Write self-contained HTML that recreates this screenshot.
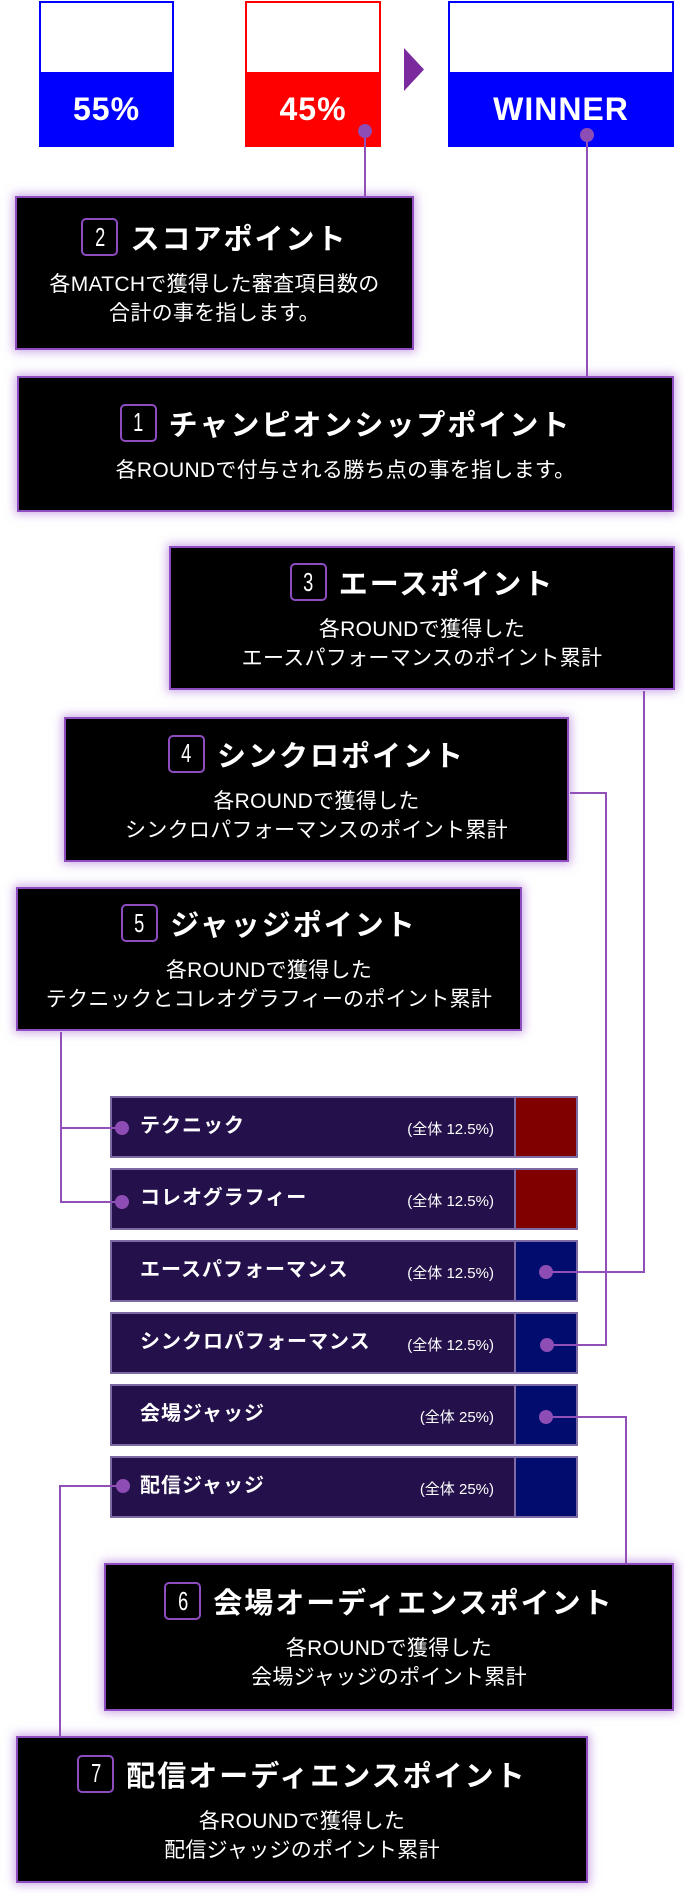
<!DOCTYPE html>
<html><head><meta charset="utf-8"><style>
*{margin:0;padding:0;box-sizing:border-box}
body{width:685px;height:1896px;background:#fff;position:relative;overflow:hidden;font-family:"Liberation Sans","Noto Sans CJK JP",sans-serif}
.top{position:absolute;top:1px;height:146px;border:2px solid;}
.top .fill{position:absolute;left:-2px;right:-2px;bottom:-2px;height:75px;color:#fff;font-weight:bold;font-size:32px;display:flex;align-items:center;justify-content:center;letter-spacing:1px}
.box{position:absolute;background:#000;border:2px solid #8d4cc0;box-shadow:0 0 9px 2px rgba(160,100,210,.55);display:flex;flex-direction:column;justify-content:center;align-items:center;color:#fff}
.t{display:flex;align-items:center;height:38px;font-size:29px;font-weight:bold;letter-spacing:2px;margin-bottom:14px}
.b{width:37px;height:38px;border:2px solid #8d4cc0;border-radius:5px;display:flex;align-items:center;justify-content:center;font-size:26px;font-weight:normal;letter-spacing:0;margin-right:12px}
.b i{font-style:normal;display:inline-block;transform:scaleX(.7)}
.d{font-size:21px;line-height:29px;text-align:center;letter-spacing:.3px}
.bar{position:absolute;left:110px;width:468px;height:62px;background:#24104a;border:2px solid #7c6aa4}
.bar .sw{position:absolute;right:0;top:0;bottom:0;width:62px;border-left:2px solid #7c6aa4}
.bar .l{position:absolute;left:28px;top:0;line-height:56px;color:#fff;font-weight:bold;font-size:20px;letter-spacing:1px}
.bar .p{position:absolute;right:82px;top:3px;line-height:58px;color:#fff;font-size:15px}
</style></head><body>
<div class="top" style="left:39px;width:135px;border-color:#0000ff"><div class="fill" style="background:#0000ff">55%</div></div>
<div class="top" style="left:245px;width:136px;border-color:#ff0000"><div class="fill" style="background:#ff0000">45%</div></div>
<svg style="position:absolute;left:404px;top:48px" width="20" height="43"><polygon points="0,0 20,21.5 0,43" fill="#7a2a9c"/></svg>
<div class="top" style="left:448px;width:226px;border-color:#0000ff"><div class="fill" style="background:#0000ff">WINNER</div></div>

<div class="box" style="left:15px;top:196px;width:399px;height:154px"><div class="t"><span class="b"><i>2</i></span>スコアポイント</div><div class="d">各MATCHで獲得した審査項目数の<br>合計の事を指します。</div></div>
<div class="box" style="left:17px;top:376px;width:657px;height:136px"><div class="t"><span class="b"><i>1</i></span>チャンピオンシップポイント</div><div class="d">各ROUNDで付与される勝ち点の事を指します。</div></div>
<div class="box" style="left:169px;top:546px;width:506px;height:144px"><div class="t"><span class="b"><i>3</i></span>エースポイント</div><div class="d">各ROUNDで獲得した<br>エースパフォーマンスのポイント累計</div></div>
<div class="box" style="left:64px;top:717px;width:505px;height:145px"><div class="t"><span class="b"><i>4</i></span>シンクロポイント</div><div class="d">各ROUNDで獲得した<br>シンクロパフォーマンスのポイント累計</div></div>
<div class="box" style="left:16px;top:887px;width:506px;height:144px"><div class="t"><span class="b"><i>5</i></span>ジャッジポイント</div><div class="d">各ROUNDで獲得した<br>テクニックとコレオグラフィーのポイント累計</div></div>

<div class="bar" style="top:1096px"><span class="l">テクニック</span><span class="p">(全体 12.5%)</span><div class="sw" style="background:#800000"></div></div>
<div class="bar" style="top:1168px"><span class="l">コレオグラフィー</span><span class="p">(全体 12.5%)</span><div class="sw" style="background:#800000"></div></div>
<div class="bar" style="top:1240px"><span class="l">エースパフォーマンス</span><span class="p">(全体 12.5%)</span><div class="sw" style="background:#000c6e"></div></div>
<div class="bar" style="top:1312px"><span class="l">シンクロパフォーマンス</span><span class="p">(全体 12.5%)</span><div class="sw" style="background:#000c6e"></div></div>
<div class="bar" style="top:1384px"><span class="l">会場ジャッジ</span><span class="p">(全体 25%)</span><div class="sw" style="background:#000c6e"></div></div>
<div class="bar" style="top:1456px"><span class="l">配信ジャッジ</span><span class="p">(全体 25%)</span><div class="sw" style="background:#000c6e"></div></div>

<div class="box" style="left:104px;top:1563px;width:570px;height:148px"><div class="t"><span class="b"><i>6</i></span>会場オーディエンスポイント</div><div class="d">各ROUNDで獲得した<br>会場ジャッジのポイント累計</div></div>
<div class="box" style="left:16px;top:1736px;width:572px;height:147px"><div class="t"><span class="b"><i>7</i></span>配信オーディエンスポイント</div><div class="d">各ROUNDで獲得した<br>配信ジャッジのポイント累計</div></div>

<svg style="position:absolute;left:0;top:0" width="685" height="1896">
<g fill="none" stroke="#9050b8" stroke-width="2">
<path d="M365 131V196"/>
<path d="M587 135V376"/>
<path d="M644 691V1272H546"/>
<path d="M570 793H606V1345H546"/>
<path d="M61 1032V1202H122M61 1128H122"/>
<path d="M546 1417H626V1563"/>
<path d="M122 1486H60V1736"/>
</g>
<g fill="#8e4db5">
<circle cx="365" cy="131" r="7"/><circle cx="587" cy="135" r="7"/>
<circle cx="122" cy="1128" r="7"/><circle cx="122" cy="1202" r="7"/>
<circle cx="546" cy="1272" r="7"/><circle cx="547" cy="1345" r="7"/>
<circle cx="546" cy="1417" r="7"/><circle cx="123" cy="1486" r="7"/>
</g>
</svg>
</body></html>
